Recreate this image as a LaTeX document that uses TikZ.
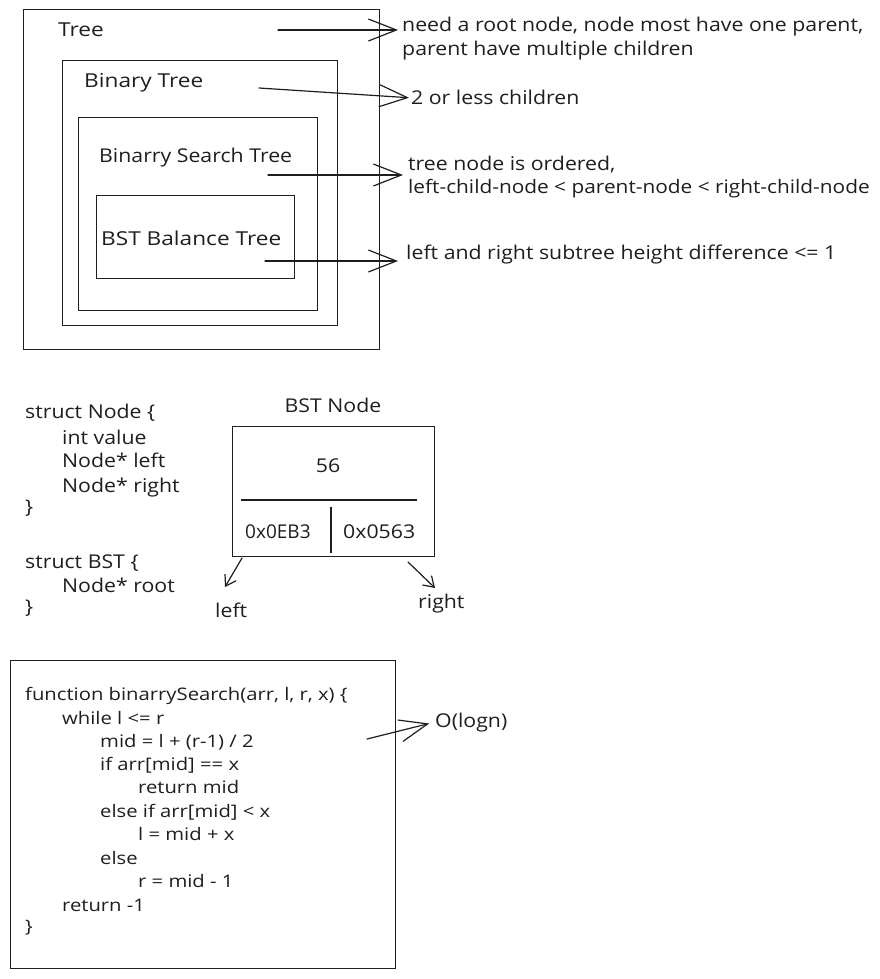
\documentclass[tikz,border=0pt]{standalone}
\usepackage{fontspec}
\setmainfont{Open Sans}
\newfontfamily\hand[FakeStretch=1.12]{Open Sans}
\newfontfamily\handwide[FakeStretch=1.18]{Open Sans}
\newfontfamily\handcode[FakeStretch=1.17]{Open Sans}
\usetikzlibrary{arrows.meta}
\definecolor{ink}{HTML}{1E1E1E}
\begin{document}
\begin{tikzpicture}[x=1pt,y=-1pt,
  every node/.style={text=ink},
  box/.style={draw=ink, line width=1.2pt, anchor=north west, inner sep=0pt},
  txt/.style={anchor=base west, inner sep=0pt, font=\hand\fontsize{19}{23}\selectfont},
  plain/.style={anchor=base west, inner sep=0pt, font=\fontsize{19}{23}\selectfont},
  heading/.style={anchor=base west, inner sep=0pt, font=\handwide\fontsize{19.2}{23}\selectfont},
  code/.style={anchor=base west, inner sep=0pt, font=\handcode\fontsize{17.3}{20}\selectfont},
  rule/.style={draw=ink, line width=1.2pt},
  link/.style={draw=ink, line width=1.2pt, line cap=round,
    -{Straight Barb[length=28pt,width=22pt,line width=1.2pt]}},
  ptr/.style={draw=ink, line width=1.2pt, line cap=round,
    -{Straight Barb[length=10pt,width=13pt,line width=1.2pt]}}
]
\useasboundingbox (0,0) rectangle (880,979);

% nested tree families
\node[box, minimum width=356pt, minimum height=340pt] (tree) at (23,9) {};
\node[box, minimum width=275pt, minimum height=265pt] (btree) at (62,60) {};
\node[box, minimum width=239pt, minimum height=193pt] (bst) at (78,117) {};
\node[box, minimum width=198pt, minimum height=83pt] (bal) at (96,195) {};

\node[heading] (ltree) at (58,37) {Tree};
\node[heading] (lbin) at (84,88) {Binary Tree};
\node[heading, font=\hand\fontsize{19}{23}\selectfont] (lbst) at (99,162) {Binarry Search Tree};
\node[heading] (lbal) at (101,245) {BST Balance Tree};

\coordinate (s1) at (278,30);
\coordinate (s2) at (259,88);
\coordinate (s3) at (268,175);
\coordinate (s4) at (265,261);

% definitions
\node[txt] (n1) at (402,32) {need a root node, node most have one parent,};
\node[txt] (n1b) at (402,56) {parent have multiple children};
\node[txt] (n2) at (411,105) {2 or less children};
\node[txt] (n3) at (408,170) {tree node is ordered,};
\node[txt, font=\hand\fontsize{18.6}{23}\selectfont] (n3b) at (408,193) {left-child-node < parent-node < right-child-node};
\node[txt] (n4) at (406,259) {left and right subtree height difference <= 1};

\draw[link, shorten >=4pt] (s1) -- (s1 -| n1.west);
\draw[link, shorten >=2pt] (s2) -- (n2.west);
\draw[link, shorten >=5pt] (s3) -- (s3 -| n3b.west);
\draw[link, shorten >=8pt] (s4) -- (s4 -| n4.west);

% struct definitions
\node[txt] (c1) at (25,418) {struct Node \{};
\node[txt] (c2) at (62,444) {int value};
\node[txt] (c3) at (62,467) {Node* left};
\node[txt] (c4) at (62,492) {Node* right};
\node[txt] (c5) at (25,513) {\}};
\node[txt] (c6) at (25,568) {struct BST \{};
\node[txt] (c7) at (62,592) {Node* root};
\node[txt] (c8) at (25,613) {\}};

% BST node layout
\node[txt, anchor=base] (title) at (333,412) {BST Node};
\node[box, minimum width=202pt, minimum height=130pt] (bnode) at (232,426) {};
\node[txt, anchor=base] (val) at (328,472) {56};
\draw[rule] (241,500) -- (417,500);
\draw[rule] (331,507) -- (331,553);
\node[plain] (pl) at (245,538) {0x0EB3};
\node[txt] (pr) at (343,538) {0x0563};

\coordinate (bl) at (242,558);
\coordinate (blt) at (225,587);
\coordinate (br) at (408,562);
\coordinate (brt) at (435,588);
\draw[ptr] (bl) -- (blt);
\draw[ptr] (br) -- (brt);
\node[txt] (lleft) at (215,617) {left};
\node[txt] (lright) at (418,608) {right};

% binary search
\node[box, minimum width=385pt, minimum height=308pt] (fn) at (10,660) {};
\node[code] (f1) at (25,700) {function binarrySearch(arr, l, r, x) \{};
\node[code] (f2) at (62,724) {while l <= r};
\node[code] (f3) at (100,747) {mid = l + (r-1) / 2};
\node[code] (f4) at (100,770) {if arr[mid] == x};
\node[code] (f5) at (138,793) {return mid};
\node[code] (f6) at (100,817) {else if arr[mid] < x};
\node[code] (f7) at (138,840) {l = mid + x};
\node[code] (f8) at (100,864) {else};
\node[code] (f9) at (138,887) {r = mid - 1};
\node[code] (f10) at (62,911) {return -1};
\node[code] (f11) at (25,932) {\}};

\coordinate (s5) at (367,739);
\node[txt] (ologn) at (435,727) {O(logn)};
\draw[link, shorten >=6pt] (s5) -- (ologn.west);
\end{tikzpicture}
\end{document}
